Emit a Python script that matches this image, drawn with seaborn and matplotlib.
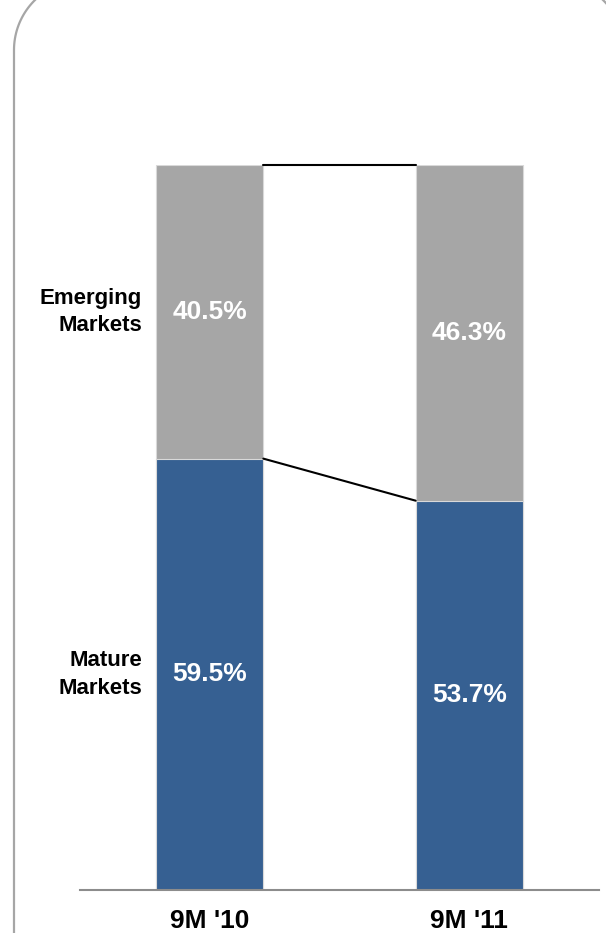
import numpy as np
import matplotlib
matplotlib.use("Agg")
import matplotlib.pyplot as plt
import seaborn as sns
import pandas as pd

# data
periods = ["9M '10", "9M '11"]
mature = [59.5, 53.7]
emerging = [40.5, 46.3]
segment_names = ["Mature\nMarkets", "Emerging\nMarkets"]

blue = "#366092"
grey = "#a6a6a6"
axis_grey = "#8c8c8c"
bar_w = 0.413

sns.set_style("white")
plt.rcParams['font.family'] = ['Liberation Sans', 'DejaVu Sans']

df = pd.DataFrame({"period": periods, "mature": mature, "emerging": emerging})
df["total"] = df["mature"] + df["emerging"]

fig = plt.figure(figsize=(6.06, 9.35), dpi=100)

# rounded frame in pixel units (only the top corners are in view)
bg = fig.add_axes([0, 0, 1, 1])
bg.set_xlim(0, 606)
bg.set_ylim(935, 0)
bg.axis('off')
r = 70
x0, y0, x1 = 14, -20, 624
t = np.linspace(0, np.pi/2, 40)
tl_x, tl_y = x0 + r - r*np.cos(t), y0 + r - r*np.sin(t)
tr_x, tr_y = x1 - r + r*np.sin(t), y0 + r - r*np.cos(t)
bg.plot(np.r_[[x0], tl_x, tr_x, [x1]],
        np.r_[[933], tl_y, tr_y, [933]],
        color=grey, lw=1.6, solid_capstyle='butt')

ax = fig.add_axes([80/606, 45/935, 519/606, 725/935])
ax.patch.set_alpha(0)

sns.barplot(data=df, x="period", y="total", color=grey, width=bar_w,
            saturation=1, edgecolor="#d9d9d9", linewidth=0.8, ax=ax)
sns.barplot(data=df, x="period", y="mature", color=blue, width=bar_w,
            saturation=1, edgecolor="#d9d9d9", linewidth=0.8, ax=ax)

# connector lines between the bars
ax.plot([bar_w/2, 1 - bar_w/2], [df["total"][0], df["total"][1]],
        color='black', lw=1.5, clip_on=False, zorder=5)
ax.plot([bar_w/2, 1 - bar_w/2], [df["mature"][0], df["mature"][1]],
        color='black', lw=1.5, clip_on=False, zorder=5)

for i in range(len(periods)):
    ax.text(i, mature[i]/2, f"{mature[i]:.1f}%", ha='center', va='center',
            color='white', fontsize=19, fontweight='bold')
    ax.text(i, mature[i] + emerging[i]/2, f"{emerging[i]:.1f}%",
            ha='center', va='center', color='white', fontsize=19,
            fontweight='bold')

# segment names to the left of the first bar
ax.text(-bar_w/2 - 0.055, mature[0]/2, segment_names[0], ha='right',
        va='center', fontsize=16, fontweight='bold', linespacing=1.4,
        color='black')
ax.text(-bar_w/2 - 0.055, mature[0] + emerging[0]/2, segment_names[1],
        ha='right', va='center', fontsize=16, fontweight='bold',
        linespacing=1.4, color='black')

ax.set_xlim(-0.5, 1.5)
ax.set_ylim(0, 100)
ax.set_xlabel("")
ax.set_ylabel("")
ax.set_yticks([])
sns.despine(ax=ax, left=True)
ax.spines['bottom'].set_color(axis_grey)
ax.spines['bottom'].set_linewidth(1.5)
ax.set_xticks([0, 1])
ax.set_xticklabels(periods, fontsize=19, fontweight='bold', color='black')
ax.set_xticks([-0.5, 0.5, 1.5], minor=True)
ax.tick_params(axis='x', which='major', length=0, pad=14)
ax.tick_params(axis='x', which='minor', length=5.8, width=1.5,
               color=axis_grey, direction='out')

fig.savefig("out.png", dpi=100)
